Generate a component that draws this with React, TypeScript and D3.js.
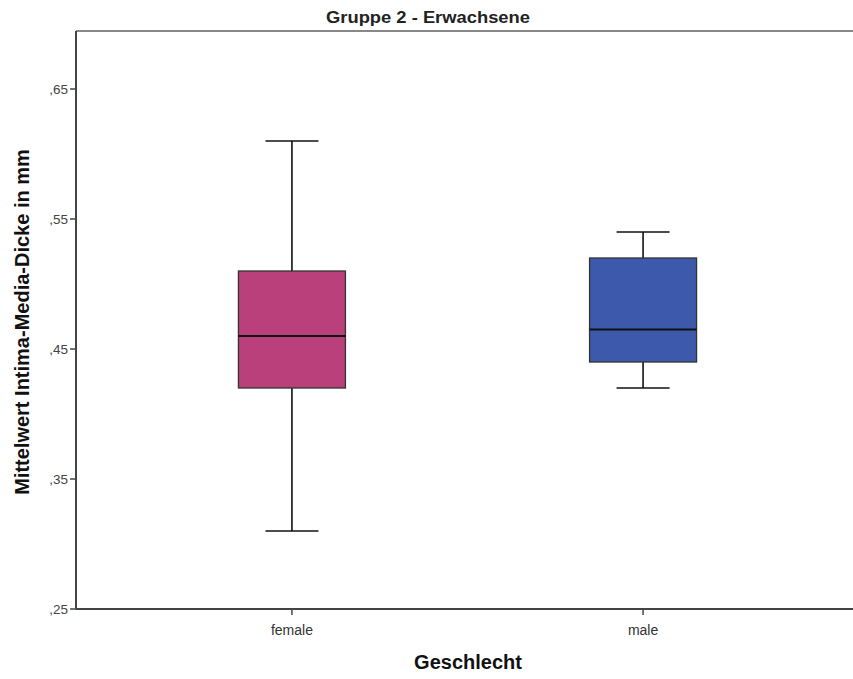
import React from "react";
import * as d3 from "d3";

const categories = ["female", "male"];
const whiskerLow = [0.31, 0.42];
const q1 = [0.42, 0.44];
const median = [0.46, 0.465];
const q3 = [0.51, 0.52];
const whiskerHigh = [0.61, 0.54];
const boxColors = ["#B9407A", "#3D59AB"];
const yTicks = [0.25, 0.35, 0.45, 0.55, 0.65];
const yTickLabels = [",25", ",35", ",45", ",55", ",65"];

const W = 853;
const H = 679;
const left = 76;
const top = 31;
const bottom = 609;

export default function App() {
  const y = d3.scaleLinear().domain([0.25, 0.65]).range([bottom, 89]);
  const x = d3.scalePoint<string>().domain(categories).range([left, 859]).padding(0.615);
  const boxW = 107;
  const capW = 53;
  const font = "Arial, 'Liberation Sans', sans-serif";
  return (
    <svg width={W} height={H} style={{ position: "absolute", left: 0, top: 0, background: "#fff" }}>
      <rect x={0} y={0} width={W} height={H} fill="#fff" />
      <text x={428} y={23} textAnchor="middle" fontFamily={font} fontWeight="bold" fontSize={17} fill="#222" textLength={204} lengthAdjust="spacingAndGlyphs">
        Gruppe 2 - Erwachsene
      </text>
      <line x1={left} x2={W} y1={top} y2={top} stroke="#888" strokeWidth={2} />
      <line x1={left} x2={left} y1={top} y2={bottom} stroke="#444" strokeWidth={2} />
      <line x1={left} x2={W} y1={bottom} y2={bottom} stroke="#444" strokeWidth={2} />
      {yTicks.map((t, i) => (
        <g key={t}>
          <line x1={left - 6} x2={left} y1={y(t)} y2={y(t)} stroke="#444" strokeWidth={1.5} />
          <text x={left - 8} y={y(t) + 5} textAnchor="end" fontFamily={font} fontSize={13.5} fill="#444">
            {yTickLabels[i]}
          </text>
        </g>
      ))}
      {categories.map((c) => (
        <g key={c}>
          <line x1={x(c)!} x2={x(c)!} y1={bottom} y2={bottom + 6} stroke="#444" strokeWidth={1.5} />
          <text x={x(c)!} y={bottom + 26} textAnchor="middle" fontFamily={font} fontSize={14} fill="#333">
            {c}
          </text>
        </g>
      ))}
      {categories.map((c, i) => {
        const cx = x(c)!;
        return (
          <g key={"b" + c}>
            <line x1={cx} x2={cx} y1={y(whiskerHigh[i])} y2={y(q3[i])} stroke="#111" strokeWidth={1.6} />
            <line x1={cx} x2={cx} y1={y(q1[i])} y2={y(whiskerLow[i])} stroke="#111" strokeWidth={1.6} />
            <line x1={cx - capW / 2} x2={cx + capW / 2} y1={y(whiskerHigh[i])} y2={y(whiskerHigh[i])} stroke="#111" strokeWidth={1.6} />
            <line x1={cx - capW / 2} x2={cx + capW / 2} y1={y(whiskerLow[i])} y2={y(whiskerLow[i])} stroke="#111" strokeWidth={1.6} />
            <rect x={cx - boxW / 2} y={y(q3[i])} width={boxW} height={y(q1[i]) - y(q3[i])} fill={boxColors[i]} stroke="#333" strokeWidth={1.3} />
            <line x1={cx - boxW / 2} x2={cx + boxW / 2} y1={y(median[i])} y2={y(median[i])} stroke="#111" strokeWidth={2} />
          </g>
        );
      })}
      <text x={468} y={669} textAnchor="middle" fontFamily={font} fontWeight="bold" fontSize={20} fill="#111">
        Geschlecht
      </text>
      <text transform={`translate(29, 322) rotate(-90)`} textAnchor="middle" fontFamily={font} fontWeight="bold" fontSize={20} fill="#111">
        Mittelwert Intima-Media-Dicke in mm
      </text>
    </svg>
  );
}
